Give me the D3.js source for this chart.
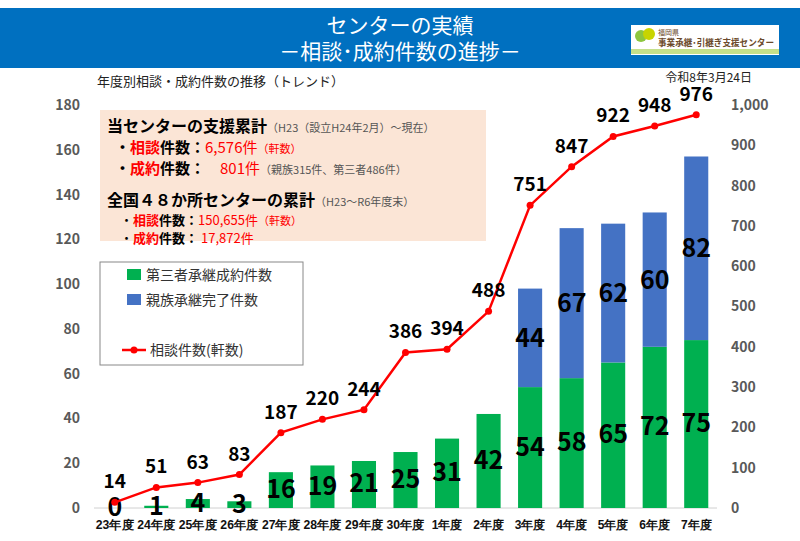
<!DOCTYPE html>
<html lang="ja">
<head>
<meta charset="UTF-8">
<style>
  body { margin: 0; background: #fff; }
  svg { display: block; font-family: "Noto Sans CJK JP", sans-serif; }
  .num { font-family: "Liberation Sans Narrow", "Noto Sans CJK JP", sans-serif; font-weight: bold; }
</style>
</head>
<body>
<svg id="chart" width="800" height="541"></svg>
<script src="https://cdn.jsdelivr.net/npm/d3@7"></script>
<script>
// data
var years = ["23年度","24年度","25年度","26年度","27年度","28年度","29年度","30年度","1年度","2年度","3年度","4年度","5年度","6年度","7年度"];
var thirdParty = [0,1,4,3,16,19,21,25,31,42,54,58,65,72,75];
var family = [null,null,null,null,null,null,null,null,null,null,44,67,62,60,82];
var consults = [14,51,63,83,187,220,244,386,394,488,751,847,922,948,976];
var leftTicks = [0,20,40,60,80,100,120,140,160,180];
var rightTicks = [0,100,200,300,400,500,600,700,800,900,1000];

var svg = d3.select("#chart");

// header
svg.append("rect").attr("x", 0).attr("y", 8).attr("width", 800).attr("height", 60).attr("fill", "#0070C0");
svg.append("text").attr("x", 400).attr("y", 33).attr("text-anchor", "middle").attr("fill", "#fff")
  .attr("font-size", 21).text("センターの実績");
svg.append("text").attr("x", 400).attr("y", 59).attr("text-anchor", "middle").attr("fill", "#fff")
  .attr("font-size", 21).text("－相談･成約件数の進捗－");
var logo = svg.append("g");
logo.append("rect").attr("x", 631).attr("y", 25).attr("width", 148).attr("height", 30).attr("fill", "#fff");
logo.append("rect").attr("x", 631).attr("y", 49).attr("width", 148).attr("height", 5).attr("fill", "#c5e08a");
logo.append("circle").attr("cx", 641).attr("cy", 36).attr("r", 6).attr("fill", "#8dc63f");
logo.append("circle").attr("cx", 649).attr("cy", 34).attr("r", 6).attr("fill", "#c8d400");
logo.append("text").attr("x", 658).attr("y", 35).attr("font-size", 7).attr("fill", "#6b4a2b").text("福岡県");
logo.append("text").attr("x", 658).attr("y", 46).attr("font-size", 9).attr("font-weight", "bold").attr("fill", "#6b4a2b")
  .attr("textLength", 116).attr("lengthAdjust", "spacingAndGlyphs").text("事業承継･引継ぎ支援センター");

svg.append("text").attr("x", 97).attr("y", 86).attr("font-size", 13).attr("fill", "#222").text("年度別相談・成約件数の推移（トレンド）");
svg.append("text").attr("x", 752).attr("y", 82).attr("text-anchor", "end").attr("font-size", 12).attr("fill", "#222").text("令和8年3月24日");

// scales
var x = d3.scaleBand().domain(years).range([94, 717]).paddingInner(0.42).paddingOuter(0.21);
var y = d3.scaleLinear().domain([0, 180]).range([508, 105]);
var y2 = d3.scaleLinear().domain([0, 1000]).range([508, 105]);

svg.append("line").attr("x1", 94).attr("x2", 717).attr("y1", y(0)).attr("y2", y(0)).attr("stroke", "#d0d0d0");

svg.append("g").attr("transform", "translate(80,0)")
  .call(d3.axisLeft(y).tickValues(leftTicks).tickSize(0).tickPadding(0))
  .call(function (g) { g.select(".domain").remove(); })
  .selectAll("text").attr("class", "num").attr("font-size", 14).attr("fill", "#595959");
svg.append("g").attr("transform", "translate(731,0)")
  .call(d3.axisRight(y2).tickValues(rightTicks).tickSize(0).tickPadding(0).tickFormat(d3.format(",")))
  .call(function (g) { g.select(".domain").remove(); })
  .selectAll("text").attr("class", "num").attr("font-size", 14).attr("fill", "#595959");
svg.append("g").attr("transform", "translate(0," + (y(0) + 6) + ")")
  .call(d3.axisBottom(x).tickSize(0).tickPadding(6))
  .call(function (g) { g.select(".domain").remove(); })
  .selectAll("text").attr("font-size", 12).attr("font-weight", "bold").attr("fill", "#111")
  .each(function (d) { if (d.length > 3) d3.select(this).attr("textLength", 38).attr("lengthAdjust", "spacingAndGlyphs"); });

// bars
svg.append("g").selectAll("rect").data(years).join("rect")
  .attr("x", function (d) { return x(d); }).attr("width", x.bandwidth())
  .attr("y", function (d, i) { return y(thirdParty[i]); })
  .attr("height", function (d, i) { return y(0) - y(thirdParty[i]); })
  .attr("fill", "#00B050");
svg.append("g").selectAll("rect").data(years.filter(function (d, i) { return family[i] != null; })).join("rect")
  .attr("x", function (d) { return x(d); }).attr("width", x.bandwidth())
  .attr("y", function (d) { var i = years.indexOf(d); return y(thirdParty[i] + family[i]); })
  .attr("height", function (d) { var i = years.indexOf(d); return y(0) - y(family[i]); })
  .attr("fill", "#4472C4");

// bar labels
years.forEach(function (d, i) {
  var cx = x(d) + x.bandwidth() / 2;
  svg.append("text").attr("class", "num").attr("x", cx).attr("y", y(thirdParty[i] / 2) + 8)
    .attr("text-anchor", "middle").attr("font-size", 25).attr("fill", "#000").text(thirdParty[i]);
  if (family[i] != null) {
    svg.append("text").attr("class", "num").attr("x", cx).attr("y", y(thirdParty[i] + family[i] / 2) + 9)
      .attr("text-anchor", "middle").attr("font-size", 25).attr("fill", "#000").text(family[i]);
  }
});

// line
var line = d3.line().x(function (d, i) { return x(years[i]) + x.bandwidth() / 2; }).y(function (d) { return y2(d); });
svg.append("path").datum(consults).attr("d", line).attr("fill", "none").attr("stroke", "#FF0000").attr("stroke-width", 2.5);
svg.append("g").selectAll("circle").data(consults).join("circle")
  .attr("cx", function (d, i) { return x(years[i]) + x.bandwidth() / 2; })
  .attr("cy", function (d) { return y2(d); }).attr("r", 3.5).attr("fill", "#FF0000");
svg.append("g").selectAll("text").data(consults).join("text").attr("class", "num")
  .attr("x", function (d, i) { return x(years[i]) + x.bandwidth() / 2; })
  .attr("y", function (d) { return y2(d) - 14; })
  .attr("text-anchor", "middle").attr("font-size", 19).attr("fill", "#000").text(function (d) { return d; });

// info box
var info = svg.append("g");
info.append("rect").attr("x", 100).attr("y", 110).attr("width", 386).attr("height", 131).attr("fill", "#FBE5D6");
function line3(yy, parts) {
  var t = info.append("text").attr("y", yy);
  parts.forEach(function (p, k) {
    var s = t.append("tspan").attr("font-size", p[1]).attr("fill", p[2]).text(p[0]);
    if (p[3]) s.attr("font-weight", "bold");
    if (k === 0) s.attr("x", p[4]);
  });
}
line3(132, [["当センターの支援累計", 16, "#000", true, 107], ["（H23（設立H24年2月）～現在）", 11, "#555"]]);
line3(153, [["・", 15, "#000", true, 115], ["相談", 15, "#FF0000", true], ["件数：", 15, "#000", true], ["6,576件", 15, "#FF0000"], ["（軒数）", 11, "#FF0000"]]);
line3(174, [["・", 15, "#000", true, 115], ["成約", 15, "#FF0000", true], ["件数：　", 15, "#000", true], ["801件", 15, "#FF0000"], ["（親族315件、第三者486件）", 11, "#555"]]);
line3(206, [["全国４８か所センターの累計", 16, "#000", true, 107], ["（H23～R6年度末）", 11, "#555"]]);
line3(225, [["・", 13, "#000", false, 120], ["相談", 13, "#FF0000", true], ["件数：", 13, "#000", true], ["150,655件", 13, "#FF0000"], ["（軒数）", 11, "#FF0000"]]);
line3(243, [["・", 13, "#000", false, 120], ["成約", 13, "#FF0000", true], ["件数：", 13, "#000", true], [" 17,872件", 13, "#FF0000"]]);

// legend
var lg = svg.append("g");
lg.append("rect").attr("x", 100).attr("y", 262).attr("width", 203).attr("height", 103).attr("fill", "#fff").attr("stroke", "#888");
lg.append("rect").attr("x", 127).attr("y", 269).attr("width", 14).attr("height", 11).attr("fill", "#00B050");
lg.append("text").attr("x", 146).attr("y", 280).attr("font-size", 14).attr("fill", "#333").text("第三者承継成約件数");
lg.append("rect").attr("x", 127).attr("y", 294).attr("width", 14).attr("height", 11).attr("fill", "#4472C4");
lg.append("text").attr("x", 146).attr("y", 305).attr("font-size", 14).attr("fill", "#333").text("親族承継完了件数");
lg.append("line").attr("x1", 122).attr("x2", 146).attr("y1", 350).attr("y2", 350).attr("stroke", "#FF0000").attr("stroke-width", 2.5);
lg.append("circle").attr("cx", 134).attr("cy", 350).attr("r", 3.5).attr("fill", "#FF0000");
lg.append("text").attr("x", 150).attr("y", 355).attr("font-size", 14).attr("fill", "#333").text("相談件数(軒数)");
</script>
</body>
</html>
